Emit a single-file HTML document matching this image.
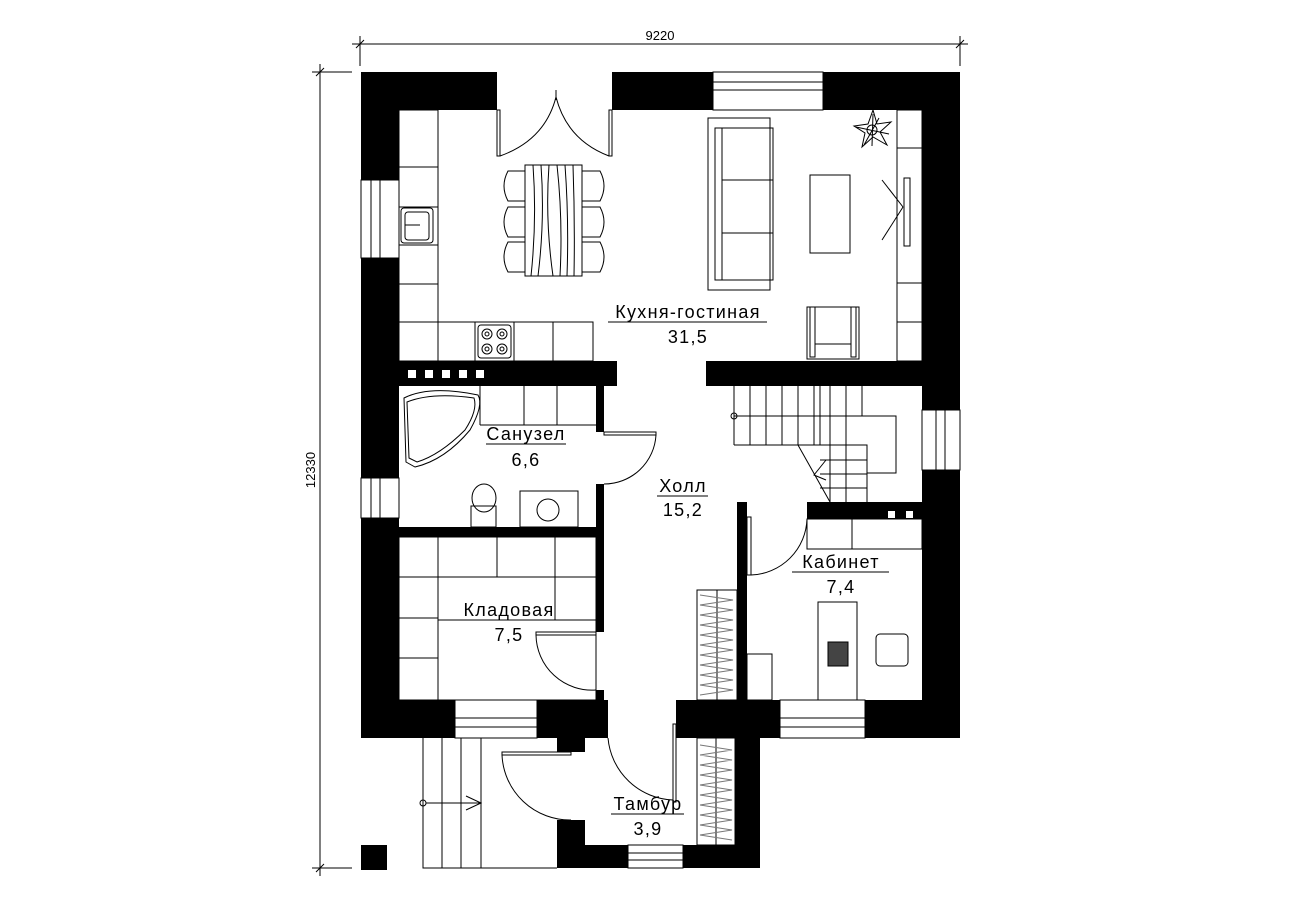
<!DOCTYPE html>
<html><head><meta charset="utf-8"><style>
html,body{margin:0;padding:0;background:#fff;}
svg{display:block}
text{font-family:"Liberation Sans Narrow","Liberation Sans",sans-serif;fill:#000}
</style></head><body>
<svg width="1289" height="908" viewBox="0 0 1289 908" xmlns="http://www.w3.org/2000/svg">
<g stroke="#000" stroke-width="1" fill="none">
<line x1="352" y1="44" x2="968" y2="44"/>
<line x1="360" y1="36" x2="360" y2="66"/><line x1="960" y1="36" x2="960" y2="66"/>
<line x1="356" y1="48" x2="364" y2="40"/><line x1="956" y1="48" x2="964" y2="40"/>
<line x1="320" y1="64" x2="320" y2="876"/>
<line x1="312" y1="72" x2="352" y2="72"/><line x1="312" y1="868" x2="352" y2="868"/>
<line x1="316" y1="76" x2="324" y2="68"/><line x1="316" y1="872" x2="324" y2="864"/>
</g>
<text x="660" y="40" font-size="13" text-anchor="middle">9220</text>
<text x="0" y="0" font-size="13" text-anchor="middle" transform="translate(315,470) rotate(-90)">12330</text>

<g fill="#000">
<rect x="361" y="72" width="136" height="38"/>
<rect x="612" y="72" width="101" height="38"/>
<rect x="823" y="72" width="137" height="38"/>
<rect x="361" y="72" width="38" height="108"/>
<rect x="361" y="258" width="38" height="220"/>
<rect x="361" y="518" width="38" height="220"/>
<rect x="922" y="72" width="38" height="338"/>
<rect x="922" y="470" width="38" height="268"/>
<rect x="361" y="700" width="94" height="38"/>
<rect x="537" y="700" width="71" height="38"/>
<rect x="676" y="700" width="104" height="38"/>
<rect x="865" y="700" width="95" height="38"/>
<rect x="399" y="361" width="218" height="25"/>
<rect x="706" y="361" width="216" height="25"/>
<rect x="596" y="386" width="8" height="46"/>
<rect x="596" y="484" width="8" height="53"/>
<rect x="399" y="527" width="205" height="10"/>
<rect x="596" y="537" width="8" height="95"/>
<rect x="596" y="690" width="8" height="10"/>
<rect x="737" y="502" width="10" height="198"/>
<rect x="807" y="502" width="115" height="17"/>
<rect x="557" y="738" width="28" height="14"/>
<rect x="557" y="820" width="28" height="48"/>
<rect x="557" y="845" width="71" height="23"/>
<rect x="683" y="845" width="77" height="23"/>
<rect x="735" y="738" width="25" height="130"/>
<rect x="361" y="845" width="26" height="25"/>
</g>
<g fill="#fff">
<rect x="408" y="370" width="8" height="8"/><rect x="425" y="370" width="8" height="8"/><rect x="442" y="370" width="8" height="8"/><rect x="459" y="370" width="8" height="8"/><rect x="476" y="370" width="8" height="8"/>
<rect x="888" y="511" width="7" height="7"/><rect x="906" y="511" width="7" height="7"/>
</g>
<g stroke="#000" fill="#fff" stroke-width="1">
<rect x="713" y="72" width="110" height="38"/>
<line x1="713" y1="82" x2="823" y2="82"/><line x1="713" y1="90" x2="823" y2="90"/>
<rect x="361" y="180" width="38" height="78"/>
<line x1="371" y1="180" x2="371" y2="258"/><line x1="380" y1="180" x2="380" y2="258"/>
<rect x="361" y="478" width="38" height="40"/>
<line x1="371" y1="478" x2="371" y2="518"/><line x1="380" y1="478" x2="380" y2="518"/>
<rect x="922" y="410" width="38" height="60"/>
<line x1="936" y1="410" x2="936" y2="470"/><line x1="945" y1="410" x2="945" y2="470"/>
<rect x="455" y="700" width="82" height="38"/>
<line x1="455" y1="718" x2="537" y2="718"/><line x1="455" y1="727" x2="537" y2="727"/>
<rect x="780" y="700" width="85" height="38"/>
<line x1="780" y1="718" x2="865" y2="718"/><line x1="780" y1="727" x2="865" y2="727"/>
<rect x="628" y="845" width="55" height="23"/>
<line x1="628" y1="853" x2="683" y2="853"/><line x1="628" y1="860" x2="683" y2="860"/>
</g>

<g stroke="#000" fill="none" stroke-width="1">
<rect x="497" y="110" width="3" height="46"/><rect x="609" y="110" width="3" height="46"/>
<path d="M500 156 Q545 140 556 97 Q567 140 609 156"/>
<line x1="556" y1="90" x2="556" y2="100"/>
<rect x="399" y="110" width="39" height="212"/>
<line x1="399" y1="167" x2="438" y2="167"/><line x1="399" y1="207" x2="438" y2="207"/><line x1="399" y1="245" x2="438" y2="245"/><line x1="399" y1="284" x2="438" y2="284"/>
<rect x="399" y="322" width="194" height="39"/>
<line x1="438" y1="322" x2="438" y2="361"/><line x1="475" y1="322" x2="475" y2="361"/><line x1="514" y1="322" x2="514" y2="361"/><line x1="553" y1="322" x2="553" y2="361"/>
<rect x="401" y="208" width="32" height="35" rx="3"/><rect x="405" y="212" width="24" height="28" rx="3"/>
<line x1="405" y1="225" x2="420" y2="225"/>
<rect x="478" y="325" width="33" height="33" rx="3"/>
<circle cx="487" cy="334" r="5"/><circle cx="502" cy="334" r="5"/><circle cx="487" cy="349" r="5"/><circle cx="502" cy="349" r="5"/>
<circle cx="487" cy="334" r="2"/><circle cx="502" cy="334" r="2"/><circle cx="487" cy="349" r="2"/><circle cx="502" cy="349" r="2"/>
<rect x="525" y="165" width="57" height="111"/>
<path d="M533 165 Q537 220 531 276 M541 165 Q545 220 538 276 M549 165 Q545 220 553 276 M557 165 Q563 220 560 276 M565 165 Q569 220 567 276 M573 165 Q575 220 574 276"/>
<path d="M525 171 H508 Q500 186 508 201 H525 M525 207 H508 Q500 222 508 237 H525 M525 242 H508 Q500 257 508 272 H525"/>
<path d="M582 171 H600 Q608 186 600 201 H582 M582 207 H600 Q608 222 600 237 H582 M582 242 H600 Q608 257 600 272 H582"/>
<rect x="708" y="118" width="62" height="172"/>
<rect x="715" y="128" width="58" height="152"/>
<line x1="722" y1="128" x2="722" y2="280"/>
<line x1="722" y1="180" x2="773" y2="180"/><line x1="722" y1="233" x2="773" y2="233"/>
<rect x="810" y="175" width="40" height="78"/>
<line x1="882" y1="180" x2="903" y2="207"/><line x1="903" y1="207" x2="882" y2="240"/>
<rect x="904" y="178" width="6" height="68"/>
<rect x="897" y="110" width="25" height="251"/>
<line x1="897" y1="148" x2="922" y2="148"/><line x1="897" y1="283" x2="922" y2="283"/><line x1="897" y1="322" x2="922" y2="322"/>
<path d="M873 110 L877 124 L891 122 L880 132 L887 145 L873 137 L862 147 L865 133 L854 126 L868 124 Z"/>
<path d="M873 114 L872 146 M856 127 L889 134 M864 145 L879 118"/>
<circle cx="872" cy="130" r="5"/>
<rect x="807" y="307" width="52" height="52"/>
<rect x="810" y="307" width="5" height="50"/><rect x="851" y="307" width="5" height="50"/>
<line x1="815" y1="344" x2="851" y2="344"/>
<path d="M404 398 Q430 385 478 395 Q484 405 470 430 Q445 460 415 467 L406 462 Z"/>
<path d="M407 402 Q432 392 474 398 Q478 410 465 430 Q440 455 417 462 L409 458 Z"/>
<line x1="480" y1="386" x2="480" y2="425"/><line x1="480" y1="425" x2="596" y2="425"/>
<line x1="524" y1="386" x2="524" y2="425"/><line x1="557" y1="386" x2="557" y2="425"/>
<rect x="471" y="506" width="25" height="21"/>
<ellipse cx="484" cy="498" rx="12" ry="14"/>
<rect x="520" y="491" width="58" height="36"/>
<circle cx="548" cy="510" r="11"/>
<rect x="604" y="432" width="52" height="3"/>
<path d="M656 435 A52 52 0 0 1 604 484"/>
<rect x="399" y="537" width="197" height="163"/>
<line x1="399" y1="577" x2="596" y2="577"/><line x1="438" y1="537" x2="438" y2="700"/>
<line x1="497" y1="537" x2="497" y2="577"/><line x1="555" y1="537" x2="555" y2="620"/>
<line x1="438" y1="620" x2="596" y2="620"/>
<line x1="399" y1="618" x2="438" y2="618"/><line x1="399" y1="658" x2="438" y2="658"/>
<rect x="536" y="632" width="60" height="3"/>
<path d="M536 635 A56 56 0 0 0 596 690"/>
<line x1="734" y1="386" x2="734" y2="445"/>
<path d="M734 445 H820 V386 M734 416 H896 V473 H867 M820 445 H867 V502"/>
<line x1="750" y1="386" x2="750" y2="445"/><line x1="766" y1="386" x2="766" y2="445"/><line x1="782" y1="386" x2="782" y2="445"/><line x1="798" y1="386" x2="798" y2="445"/><line x1="814" y1="386" x2="814" y2="445"/>
<line x1="830" y1="386" x2="830" y2="502"/><line x1="846" y1="386" x2="846" y2="502"/><line x1="862" y1="386" x2="862" y2="416"/>
<line x1="820" y1="460" x2="867" y2="460"/><line x1="820" y1="474" x2="867" y2="474"/><line x1="820" y1="488" x2="867" y2="488"/>
<circle cx="734" cy="416" r="3"/>
<line x1="798" y1="445" x2="830" y2="502"/>
<path d="M826 460 L814 475 L826 480"/>
<rect x="747" y="517" width="4" height="58"/>
<path d="M751 575 A58 58 0 0 0 807 519"/>
<rect x="807" y="519" width="45" height="30"/><rect x="852" y="519" width="70" height="30"/>
<rect x="697" y="590" width="40" height="110"/>
<line x1="717" y1="590" x2="717" y2="700"/>
<path d="M700 595 L733 600 L700 605 L733 610 L700 615 L733 620 L700 625 L733 630 L700 635 L733 640 L700 645 L733 650 L700 655 L733 660 L700 665 L733 670 L700 675 L733 680 L700 685 L733 690 L700 695" stroke="#777"/>
<rect x="747" y="654" width="25" height="46"/>
<rect x="818" y="602" width="39" height="98"/>
<rect x="828" y="642" width="20" height="24" fill="#444"/>
<rect x="876" y="634" width="32" height="32" rx="4"/>
<line x1="880" y1="634" x2="904" y2="634"/><line x1="880" y1="666" x2="904" y2="666"/>
<rect x="697" y="738" width="38" height="107"/>
<line x1="716" y1="738" x2="716" y2="845"/>
<path d="M700 745 L732 750 L700 755 L732 760 L700 765 L732 770 L700 775 L732 780 L700 785 L732 790 L700 795 L732 800 L700 805 L732 810 L700 815 L732 820 L700 825 L732 830 L700 835 L732 840" stroke="#777"/>
<rect x="673" y="724" width="3" height="78"/>
<path d="M608 738 A68 68 0 0 0 673 800"/>
<rect x="502" y="752" width="69" height="3"/>
<path d="M502 755 A68 68 0 0 0 571 820"/>
<path d="M423 738 V868 H557 M442 738 V868 M461 738 V868 M481 738 V868"/>
<circle cx="423" cy="803" r="3"/><line x1="426" y1="803" x2="481" y2="803"/>
<path d="M466 796 L481 803 L466 810"/>
</g>

<g font-size="18" text-anchor="middle" letter-spacing="1.3">
<text x="688" y="318">Кухня-гостиная</text><line x1="608" y1="322" x2="767" y2="322" stroke="#000"/>
<text x="688" y="343">31,5</text>
<text x="526" y="440">Санузел</text><line x1="486" y1="444" x2="566" y2="444" stroke="#000"/>
<text x="526" y="466">6,6</text>
<text x="683" y="492">Холл</text><line x1="657" y1="496" x2="708" y2="496" stroke="#000"/>
<text x="683" y="516">15,2</text>
<text x="841" y="568">Кабинет</text><line x1="792" y1="572" x2="889" y2="572" stroke="#000"/>
<text x="841" y="593">7,4</text>
<text x="509" y="616">Кладовая</text><line x1="461" y1="620" x2="555" y2="620" stroke="#000"/>
<text x="509" y="641">7,5</text>
<text x="648" y="810">Тамбур</text><line x1="611" y1="814" x2="684" y2="814" stroke="#000"/>
<text x="648" y="835">3,9</text>
</g>
</svg>
</body></html>
